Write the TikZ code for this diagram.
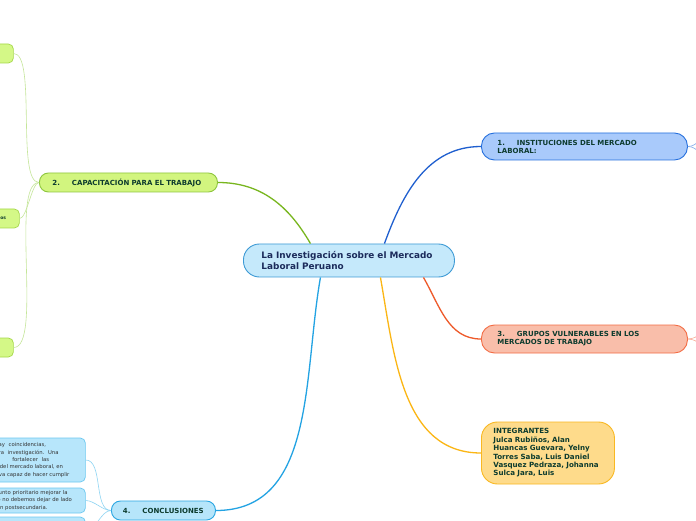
\documentclass[tikz,border=0pt]{standalone}
\usepackage{fontspec}
\setmainfont{DejaVu Sans}
\usetikzlibrary{positioning}

\definecolor{centfill}{HTML}{C5E9FB}
\definecolor{centline}{HTML}{3D9AD5}
\definecolor{navytext}{HTML}{1B2B5B}
\definecolor{topictext}{HTML}{0D3B2E}
\definecolor{instfill}{HTML}{A9CAFB}
\definecolor{instline}{HTML}{2670DD}
\definecolor{grupfill}{HTML}{F9BEAA}
\definecolor{grupline}{HTML}{F36D45}
\definecolor{intfill}{HTML}{FEDB8B}
\definecolor{intline}{HTML}{F9B822}
\definecolor{capfill}{HTML}{D2F57F}
\definecolor{capline}{HTML}{8EC63F}
\definecolor{concfill}{HTML}{B6E5FA}
\definecolor{concline}{HTML}{2AA6E2}
\definecolor{linkinst}{HTML}{1F5FCF}
\definecolor{linkcap}{HTML}{78B61E}
\definecolor{linkgrup}{HTML}{EE5A2A}
\definecolor{linkint}{HTML}{FBB615}
\definecolor{linkconc}{HTML}{23A3E3}
\definecolor{leafgfill}{HTML}{D4F887}
\definecolor{leafgline}{HTML}{A6D84A}
\definecolor{leafglink}{HTML}{C5E69A}
\definecolor{leafbfill}{HTML}{B7E6FB}
\definecolor{leafbline}{HTML}{6CC8F0}
\definecolor{leafblink}{HTML}{8FD5F3}

\tikzset{
    box/.style={anchor=west, align=left, line width=0.9pt, inner ysep=0pt,
        execute at begin node={\hyphenpenalty=10000\exhyphenpenalty=10000}},
    topic/.style={box, text=topictext, font=\bfseries\fontsize{7}{8}\selectfont},
    link/.style={line width=1.3pt},
    leaflink/.style={line width=0.6pt},
    leafg/.style={box, rounded corners=5pt, fill=leafgfill, draw=leafgline, line width=0.7pt, minimum height=19pt},
    leafb/.style={box, rounded corners=5pt, fill=leafbfill, draw=leafbline, line width=0.7pt, text=black!80,
        font=\fontsize{5.3}{7.3}\selectfont, text width=84pt, inner xsep=6pt},
}

\begin{document}
\begin{tikzpicture}[x=1pt, y=1pt]

\useasboundingbox (0,0) rectangle (696,520);
\fill[white] (0,0) rectangle (696,520);
\clip (0,0) rectangle (696,520);

% central topic
\node[box, rounded corners=16pt, fill=centfill, draw=centline, text=navytext,
    font=\bfseries\fontsize{8.9}{11}\selectfont, minimum height=33pt, text width=175pt, inner xsep=18pt]
    (central) at (243, 259.5) {La Investigación sobre el Mercado\\Laboral Peruano};

% main branches
\node[topic, rounded corners=13pt, fill=instfill, draw=instline, minimum height=27pt, text width=174pt, inner xsep=16pt]
    (inst) at (481, 373.5) {1.\hspace{12pt}INSTITUCIONES DEL MERCADO\\LABORAL:};
\node[topic, rounded corners=13pt, fill=grupfill, draw=grupline, minimum height=28pt, text width=174pt, inner xsep=16pt]
    (grup) at (481, 181) {3.\hspace{12pt}GRUPOS VULNERABLES EN LOS\\MERCADOS DE TRABAJO};
\node[topic, rounded corners=16pt, fill=intfill, draw=intline, minimum height=62pt, text width=109pt, inner xsep=12pt,
    font=\bfseries\fontsize{7.1}{8.4}\selectfont]
    (integ) at (481, 67) {INTEGRANTES\\Julca Rubiños, Alan\\Huancas Guevara, Yelny\\Torres Saba, Luis Daniel\\Vasquez Pedraza, Johanna\\Sulca Jara, Luis};
\node[topic, rounded corners=9pt, fill=capfill, draw=capline, minimum height=19pt, text width=152pt, inner xsep=13pt]
    (capac) at (39, 337.5) {2.\hspace{12pt}CAPACITACIÓN PARA EL TRABAJO};
\node[topic, rounded corners=9pt, fill=concfill, draw=concline, minimum height=19pt, text width=84pt, inner xsep=10pt]
    (concl) at (111, 9.5) {\hspace*{1.5pt}4.\hspace{12pt}CONCLUSIONES};

\draw[link, linkinst] ([xshift=35.5pt]central.north) to[out=70, in=180] (inst.west);
\draw[link, linkcap] ([xshift=-38.5pt]central.north) to[out=120, in=0] (capac.east);
\draw[link, linkgrup] ([xshift=74.5pt]central.south) to[out=-60, in=180] (grup.west);
\draw[link, linkint] ([xshift=31.5pt]central.south) to[out=-80, in=180] (integ.west);
\draw[link, linkconc] ([xshift=-28.5pt]central.south) to[out=-100, in=0] (concl.east);

% leaves of 2
\node[leafg, minimum width=33pt] (capa) at (-20, 466.5) {};
\node[leafg, text width=13pt, inner xsep=6pt, font=\bfseries\fontsize{4.5}{5}\selectfont, text=topictext]
    (capb) at (-6, 301.5) {os};
\node[leafg, minimum width=33pt] (capc) at (-20, 172.5) {};

\foreach \leaf in {capa, capb, capc}
    \draw[leaflink, leafglink] (capac.west) to[out=180, in=0, looseness=0.45] (\leaf.east);

% leaves of 4
\node[leafb, minimum height=44pt] (conca) at (-11, 60)
    {\begin{tabular}{@{}l@{}}
    hay\ \ coincidencias,\\
    ura\ \ investigación.\ \ Una\\
    \kern17pt fortalecer\ \ las\\
    s del mercado laboral, en\\
    tiva capaz de hacer cumplir
    \end{tabular}};
\node[leafb, minimum height=25pt] (concb) at (-11, 19.5)
    {\begin{tabular}{@{}l@{}}
    punto prioritario mejorar la\\
    ro no debemos dejar de lado\\
    ión postsecundaria.
    \end{tabular}};
\node[leafb, minimum height=28pt] (concc) at (-11, -11) {};

\foreach \leaf in {conca, concb, concc}
    \draw[leaflink, leafblink] (concl.west) to[out=180, in=0, looseness=0.8] (\leaf.east);

% branches leaving the page
\coordinate (insta) at (712, 386);
\coordinate (instb) at (712, 361);
\coordinate (grupa) at (712, 190);
\coordinate (grupb) at (712, 172);
\foreach \c in {insta, instb}
    \draw[leaflink, instline!60] (inst.east) to[out=0, in=180] (\c);
\foreach \c in {grupa, grupb}
    \draw[leaflink, grupline!60] (grup.east) to[out=0, in=180] (\c);

\end{tikzpicture}
\end{document}
